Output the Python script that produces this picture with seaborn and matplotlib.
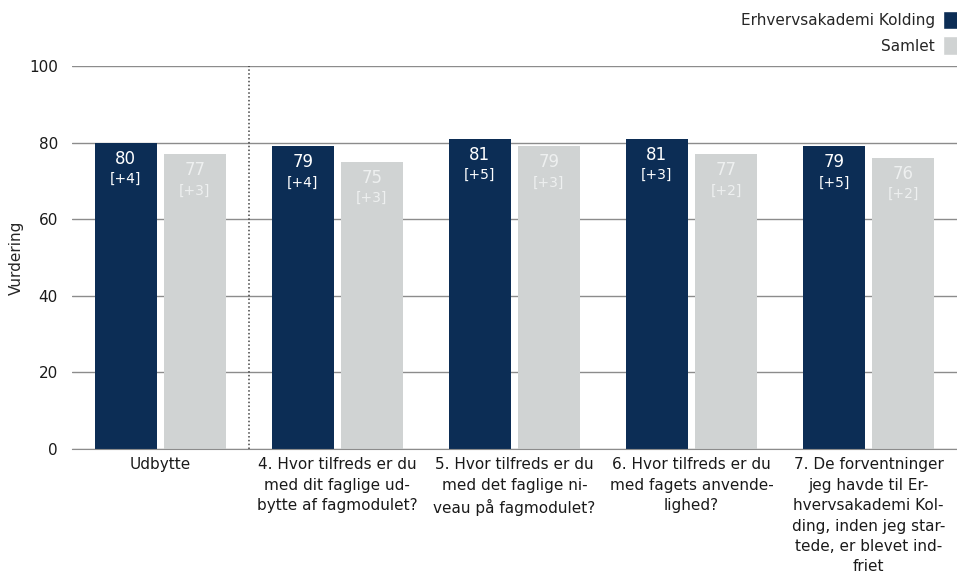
import pandas as pd
import matplotlib.pyplot as plt
import seaborn as sns
from matplotlib.patches import Patch

# Data
kategorier = [
    "Udbytte",
    "4. Hvor tilfreds er du\nmed dit faglige ud-\nbytte af fagmodulet?",
    "5. Hvor tilfreds er du\nmed det faglige ni-\nveau på fagmodulet?",
    "6. Hvor tilfreds er du\nmed fagets anvende-\nlighed?",
    "7. De forventninger\njeg havde til Er-\nhvervsakademi Kol-\nding, inden jeg star-\ntede, er blevet ind-\nfriet",
]
serier = ["Erhvervsakademi Kolding", "Samlet"]
vaerdi_eak = [80, 79, 81, 81, 79]
vaerdi_samlet = [77, 75, 79, 77, 76]
diff_eak = ["+4", "+4", "+5", "+3", "+5"]
diff_samlet = ["+3", "+3", "+3", "+2", "+2"]

farver = ["#0c2d55", "#d0d3d3"]
tekstfarver = ["white", "#eef0f0"]

df = pd.DataFrame({
    "Kategori": kategorier * 2,
    "Serie": [serier[0]] * 5 + [serier[1]] * 5,
    "Vurdering": vaerdi_eak + vaerdi_samlet,
})

sns.set_style("white")
plt.rcParams["font.family"] = ["DejaVu Sans"]

fig = plt.figure(figsize=(9.57, 5.78), dpi=100)
ax = fig.add_axes([0.075, 0.223, 0.925, 0.663])

sns.barplot(data=df, x="Kategori", y="Vurdering", hue="Serie",
            palette=farver, width=0.78, gap=0.1, saturation=1,
            linewidth=0, legend=False, ax=ax)

ax.set_ylim(0, 100)
ax.set_xlim(-0.5, 4.5)
ax.set_yticks([0, 20, 40, 60, 80, 100])
ax.yaxis.grid(True, color="#8c8c8c", linewidth=1)
ax.set_axisbelow(True)
for s in ["top", "right", "left"]:
    ax.spines[s].set_visible(False)
ax.spines["bottom"].set_color("#8c8c8c")
ax.tick_params(axis="both", length=0, labelsize=11, colors="#1a1a1a")
ax.tick_params(axis="y", pad=10)
ax.tick_params(axis="x", pad=6)
for lbl in ax.get_xticklabels():
    lbl.set_linespacing(1.45)
    lbl.set_verticalalignment("top")
ax.set_xlabel("")
ax.set_ylabel("Vurdering", fontsize=11, labelpad=4)

ax.axvline(0.5, color="#444444", linestyle=(0, (1, 1.5)), linewidth=1.1)

# etiketter i søjlerne
diffs = [diff_eak, diff_samlet]
for i, container in enumerate(ax.containers):
    for j, bar in enumerate(container):
        x = bar.get_x() + bar.get_width() / 2
        h = bar.get_height()
        ax.text(x, h - 4.2, f"{h:.0f}", ha="center", va="center",
                fontsize=12, color=tekstfarver[i])
        ax.text(x, h - 9.5, f"[{diffs[i][j]}]", ha="center", va="center",
                fontsize=10, color=tekstfarver[i])

handles = [Patch(facecolor=farver[0]), Patch(facecolor=farver[1])]
fig.legend(handles, serier, loc="upper right", bbox_to_anchor=(1.012, 1.0),
           frameon=False, markerfirst=False, fontsize=11,
           handlelength=1.0, handleheight=1.5, handletextpad=0.5,
           labelspacing=0.45, borderaxespad=0.3)

fig.savefig("out.png", dpi=100)
